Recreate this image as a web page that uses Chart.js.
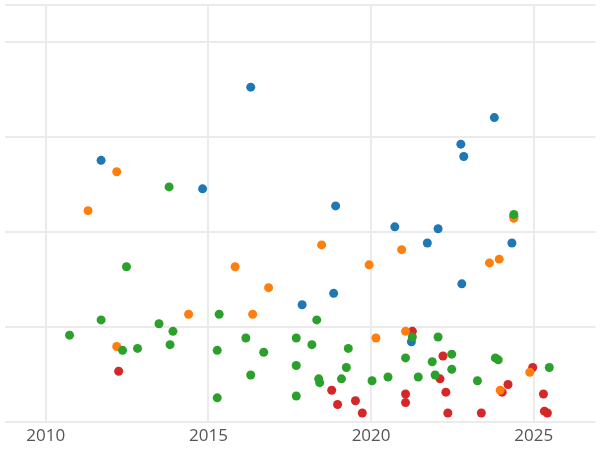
<!DOCTYPE html>
<html><head><meta charset="utf-8">
<script src="https://cdn.jsdelivr.net/npm/chart.js@4"></script>
<style>html,body{margin:0;padding:0;background:#fff}#w{width:600px;height:450px}</style>
</head><body><div id="w"><canvas id="c"></canvas></div>
<script>
const blueX=[2016.30,2011.70,2014.82,2023.79,2022.76,2022.85,2018.91,2020.73,2022.06,2021.73,2024.33,2024.39,2022.79,2018.85,2017.88,2021.24];
const blueY=[3.52,2.75,2.45,3.20,2.92,2.79,2.27,2.05,2.03,1.88,1.88,2.16,1.45,1.35,1.23,0.84];
const orangeX=[2012.18,2011.30,2018.48,2015.82,2019.94,2020.94,2016.85,2014.39,2016.36,2023.64,2023.94,2024.39,2012.18,2020.15,2021.06,2023.97,2024.88];
const orangeY=[2.63,2.22,1.86,1.63,1.65,1.81,1.41,1.13,1.13,1.67,1.71,2.14,0.79,0.88,0.95,0.33,0.52];
const greenX=[2013.79,2012.48,2010.73,2011.70,2012.36,2012.82,2013.48,2013.91,2013.82,2015.33,2015.27,2016.15,2016.70,2016.30,2015.27,2017.70,2018.18,2018.33,2017.70,2017.70,2018.39,2018.42,2019.09,2019.30,2019.24,2020.03,2020.52,2021.06,2021.27,2022.06,2021.88,2021.45,2021.97,2022.48,2022.48,2023.27,2023.82,2023.91,2024.39,2025.48];
const greenY=[2.47,1.63,0.91,1.07,0.75,0.77,1.03,0.95,0.81,1.13,0.75,0.88,0.73,0.49,0.25,0.88,0.81,1.07,0.59,0.27,0.45,0.41,0.45,0.77,0.57,0.43,0.47,0.67,0.89,0.89,0.63,0.47,0.49,0.71,0.55,0.43,0.67,0.65,2.18,0.57];
const redX=[2012.24,2021.27,2022.21,2022.12,2022.30,2018.79,2018.97,2019.52,2019.73,2021.06,2021.06,2022.36,2023.39,2024.03,2024.21,2024.97,2025.30,2025.33,2025.42];
const redY=[0.53,0.95,0.69,0.45,0.31,0.33,0.18,0.22,0.09,0.29,0.20,0.09,0.09,0.31,0.39,0.57,0.29,0.11,0.09];
const xTicks=[2010,2015,2020,2025];
const pts=(xs,ys)=>xs.map((x,i)=>({x,y:ys[i]}));
const ds=(xs,ys,c)=>({data:pts(xs,ys),backgroundColor:c,borderColor:c,pointRadius:4.5,pointHoverRadius:4.5,borderWidth:0});
new Chart(document.getElementById('c'),{type:'scatter',
data:{datasets:[ds(greenX,greenY,'#2ca02c'),ds(orangeX,orangeY,'#ff7f0e'),ds(blueX,blueY,'#1f77b4'),ds(redX,redY,'#d62728')]},
options:{responsive:true,maintainAspectRatio:false,animation:false,
layout:{padding:0},
plugins:{legend:{display:false},tooltip:{enabled:false}},
scales:{
x:{type:'linear',min:2008.73,max:2026.9,afterBuildTicks:a=>{a.ticks=xTicks.map(v=>({value:v}));},
 grid:{color:'#ebebeb',lineWidth:2,drawTicks:false},border:{display:false},
 ticks:{color:'#555',font:{size:17,family:'Open Sans'},padding:4,callback:v=>String(v)}},
y:{min:0,max:4.39,ticks:{display:false,stepSize:1},grid:{color:'#ebebeb',lineWidth:2,drawTicks:false},border:{display:false}}
}}});
</script></body></html>
